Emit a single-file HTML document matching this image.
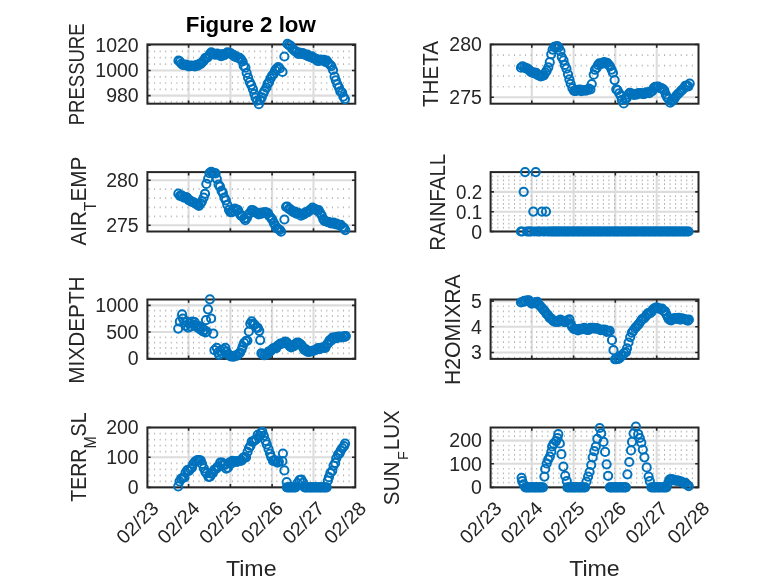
<!DOCTYPE html>
<html lang="en"><head><meta charset="utf-8"><title>Figure 2 low</title>
<style>html,body{margin:0;padding:0;background:#fff;overflow:hidden}svg{display:block;font-family:"Liberation Sans",sans-serif}</style></head><body>
<svg width="778" height="583" viewBox="0 0 778 583">
<rect width="778" height="583" fill="#fff"/>
<g>
<line x1="188.6" y1="44.4" x2="188.6" y2="103.7" stroke="#dcdcdc" stroke-width="2.1"/>
<line x1="230.4" y1="44.4" x2="230.4" y2="103.7" stroke="#dcdcdc" stroke-width="2.1"/>
<line x1="272.1" y1="44.4" x2="272.1" y2="103.7" stroke="#dcdcdc" stroke-width="2.1"/>
<line x1="313.5" y1="44.4" x2="313.5" y2="103.7" stroke="#dcdcdc" stroke-width="2.1"/>
<line x1="147.4" y1="45.2" x2="355.3" y2="45.2" stroke="#dcdcdc" stroke-width="2.1"/>
<line x1="147.4" y1="70.5" x2="355.3" y2="70.5" stroke="#dcdcdc" stroke-width="2.1"/>
<line x1="147.4" y1="95.6" x2="355.3" y2="95.6" stroke="#dcdcdc" stroke-width="2.1"/>
<line x1="148.55" y1="51.4" x2="354.3" y2="51.4" stroke="#b0b0b0" stroke-width="1.7" stroke-dasharray="1 4.557" stroke-dashoffset="0"/>
<line x1="148.55" y1="57.7" x2="354.3" y2="57.7" stroke="#b0b0b0" stroke-width="1.7" stroke-dasharray="1 4.557" stroke-dashoffset="0"/>
<line x1="148.55" y1="64.1" x2="354.3" y2="64.1" stroke="#b0b0b0" stroke-width="1.7" stroke-dasharray="1 4.557" stroke-dashoffset="0"/>
<line x1="148.55" y1="76.8" x2="354.3" y2="76.8" stroke="#b0b0b0" stroke-width="1.7" stroke-dasharray="1 4.557" stroke-dashoffset="0"/>
<line x1="148.55" y1="83" x2="354.3" y2="83" stroke="#b0b0b0" stroke-width="1.7" stroke-dasharray="1 4.557" stroke-dashoffset="0"/>
<line x1="148.55" y1="89.3" x2="354.3" y2="89.3" stroke="#b0b0b0" stroke-width="1.7" stroke-dasharray="1 4.557" stroke-dashoffset="0"/>
<line x1="148.55" y1="101.8" x2="354.3" y2="101.8" stroke="#b0b0b0" stroke-width="1.7" stroke-dasharray="1 4.557" stroke-dashoffset="0"/>
<rect x="147.4" y="44.4" width="207.9" height="59.3" fill="none" stroke="#262626" stroke-width="2"/>
<path d="M188.6 44.4v3.3 M188.6 103.7v-3.3" stroke="#262626" stroke-width="1.6" fill="none"/>
<path d="M230.4 44.4v3.3 M230.4 103.7v-3.3" stroke="#262626" stroke-width="1.6" fill="none"/>
<path d="M272.1 44.4v3.3 M272.1 103.7v-3.3" stroke="#262626" stroke-width="1.6" fill="none"/>
<path d="M313.5 44.4v3.3 M313.5 103.7v-3.3" stroke="#262626" stroke-width="1.6" fill="none"/>
<path d="M147.4 45.2h3.3 M355.3 45.2h-3.3" stroke="#262626" stroke-width="1.6" fill="none"/>
<path d="M147.4 70.5h3.3 M355.3 70.5h-3.3" stroke="#262626" stroke-width="1.6" fill="none"/>
<path d="M147.4 95.6h3.3 M355.3 95.6h-3.3" stroke="#262626" stroke-width="1.6" fill="none"/>
<text x="138.7" y="52" text-anchor="end" font-size="19.3" fill="#262626" textLength="43.4" lengthAdjust="spacingAndGlyphs">1020</text>
<text x="138.7" y="77.3" text-anchor="end" font-size="19.3" fill="#262626" textLength="43.4" lengthAdjust="spacingAndGlyphs">1000</text>
<text x="138.7" y="102.4" text-anchor="end" font-size="19.3" fill="#262626" textLength="32.55" lengthAdjust="spacingAndGlyphs">980</text>
<g fill="none" stroke="#0072BD" stroke-width="2">
<circle cx="178.48" cy="60.71" r="4.1"/>
<circle cx="179.97" cy="61.64" r="4.1"/>
<circle cx="181.38" cy="63.73" r="4.1"/>
<circle cx="182.91" cy="64.82" r="4.1"/>
<circle cx="184.23" cy="65.02" r="4.1"/>
<circle cx="186" cy="64.69" r="4.1"/>
<circle cx="187.22" cy="65.7" r="4.1"/>
<circle cx="188.95" cy="66.47" r="4.1"/>
<circle cx="190.45" cy="65.49" r="4.1"/>
<circle cx="191.8" cy="65.8" r="4.1"/>
<circle cx="193.15" cy="65.86" r="4.1"/>
<circle cx="194.87" cy="66.32" r="4.1"/>
<circle cx="196.16" cy="65.16" r="4.1"/>
<circle cx="197.84" cy="65.65" r="4.1"/>
<circle cx="199.05" cy="64.11" r="4.1"/>
<circle cx="200.85" cy="63.81" r="4.1"/>
<circle cx="202.24" cy="62.23" r="4.1"/>
<circle cx="203.71" cy="60.79" r="4.1"/>
<circle cx="205.12" cy="58.2" r="4.1"/>
<circle cx="206.73" cy="57.78" r="4.1"/>
<circle cx="208.04" cy="56.8" r="4.1"/>
<circle cx="209.8" cy="54.15" r="4.1"/>
<circle cx="211.22" cy="52.27" r="4.1"/>
<circle cx="212.66" cy="53.42" r="4.1"/>
<circle cx="214.19" cy="54.43" r="4.1"/>
<circle cx="215.52" cy="54.58" r="4.1"/>
<circle cx="217.12" cy="53.5" r="4.1"/>
<circle cx="218.49" cy="54.35" r="4.1"/>
<circle cx="220.07" cy="55.53" r="4.1"/>
<circle cx="221.35" cy="56.2" r="4.1"/>
<circle cx="222.8" cy="54.17" r="4.1"/>
<circle cx="224.35" cy="55.2" r="4.1"/>
<circle cx="226.01" cy="53.78" r="4.1"/>
<circle cx="227.41" cy="52.41" r="4.1"/>
<circle cx="228.94" cy="52.9" r="4.1"/>
<circle cx="230.38" cy="52.98" r="4.1"/>
<circle cx="232.16" cy="54.76" r="4.1"/>
<circle cx="233.39" cy="54.89" r="4.1"/>
<circle cx="234.67" cy="56.59" r="4.1"/>
<circle cx="236.22" cy="56.28" r="4.1"/>
<circle cx="238.01" cy="57.94" r="4.1"/>
<circle cx="239.53" cy="57.78" r="4.1"/>
<circle cx="240.95" cy="59.23" r="4.1"/>
<circle cx="242.59" cy="61.49" r="4.1"/>
<circle cx="243.66" cy="65.72" r="4.1"/>
<circle cx="245.4" cy="67.7" r="4.1"/>
<circle cx="246.67" cy="72.99" r="4.1"/>
<circle cx="248.12" cy="77.69" r="4.1"/>
<circle cx="249.75" cy="82.06" r="4.1"/>
<circle cx="251.26" cy="85.12" r="4.1"/>
<circle cx="252.89" cy="89.08" r="4.1"/>
<circle cx="254.39" cy="93.74" r="4.1"/>
<circle cx="255.54" cy="97.68" r="4.1"/>
<circle cx="257.19" cy="100.6" r="4.1"/>
<circle cx="258.82" cy="104.13" r="4.1"/>
<circle cx="260.09" cy="99.95" r="4.1"/>
<circle cx="261.78" cy="97.35" r="4.1"/>
<circle cx="263.37" cy="93.28" r="4.1"/>
<circle cx="264.49" cy="90.76" r="4.1"/>
<circle cx="266.41" cy="87.54" r="4.1"/>
<circle cx="267.6" cy="83.85" r="4.1"/>
<circle cx="269.04" cy="82.13" r="4.1"/>
<circle cx="270.5" cy="78.44" r="4.1"/>
<circle cx="272.1" cy="75.53" r="4.1"/>
<circle cx="273.77" cy="73.8" r="4.1"/>
<circle cx="275.18" cy="70.3" r="4.1"/>
<circle cx="276.64" cy="68.56" r="4.1"/>
<circle cx="278.22" cy="67.06" r="4.1"/>
<circle cx="282.5" cy="71.9" r="4.1"/>
<circle cx="279.8" cy="68.5" r="4.1"/>
<circle cx="284.4" cy="56.5" r="4.1"/>
<circle cx="287.45" cy="43.9" r="4.1"/>
<circle cx="288.79" cy="45.07" r="4.1"/>
<circle cx="290.5" cy="45.53" r="4.1"/>
<circle cx="292.12" cy="48.38" r="4.1"/>
<circle cx="293.7" cy="49.95" r="4.1"/>
<circle cx="295.28" cy="51.42" r="4.1"/>
<circle cx="296.66" cy="51.78" r="4.1"/>
<circle cx="298.16" cy="53.96" r="4.1"/>
<circle cx="299.38" cy="52.71" r="4.1"/>
<circle cx="301.03" cy="53.97" r="4.1"/>
<circle cx="302.71" cy="53.08" r="4.1"/>
<circle cx="304.19" cy="54.12" r="4.1"/>
<circle cx="305.77" cy="55.14" r="4.1"/>
<circle cx="307.33" cy="54.66" r="4.1"/>
<circle cx="308.49" cy="56.36" r="4.1"/>
<circle cx="310.41" cy="56.82" r="4.1"/>
<circle cx="311.91" cy="56.41" r="4.1"/>
<circle cx="313.35" cy="58.35" r="4.1"/>
<circle cx="314.91" cy="58.46" r="4.1"/>
<circle cx="316.4" cy="58.98" r="4.1"/>
<circle cx="317.52" cy="60.98" r="4.1"/>
<circle cx="319.37" cy="60.99" r="4.1"/>
<circle cx="320.59" cy="59.55" r="4.1"/>
<circle cx="322.07" cy="60.06" r="4.1"/>
<circle cx="323.88" cy="59.75" r="4.1"/>
<circle cx="325.31" cy="61.82" r="4.1"/>
<circle cx="326.72" cy="60.55" r="4.1"/>
<circle cx="328.17" cy="62.78" r="4.1"/>
<circle cx="330.08" cy="64.75" r="4.1"/>
<circle cx="331.37" cy="66.11" r="4.1"/>
<circle cx="333.03" cy="70.01" r="4.1"/>
<circle cx="334.58" cy="76.52" r="4.1"/>
<circle cx="335.86" cy="80.4" r="4.1"/>
<circle cx="337.38" cy="84.45" r="4.1"/>
<circle cx="339.04" cy="87.63" r="4.1"/>
<circle cx="340.26" cy="91.27" r="4.1"/>
<circle cx="342.15" cy="92.7" r="4.1"/>
<circle cx="343.35" cy="96.56" r="4.1"/>
<circle cx="344.95" cy="99.07" r="4.1"/>
</g>
<text transform="translate(83.8 74.35) rotate(-90)" text-anchor="middle" font-size="21.8" fill="#262626" textLength="101.8" lengthAdjust="spacingAndGlyphs">PRESSURE</text>
<text x="250.8" y="31.5" text-anchor="middle" font-size="21.8" font-weight="bold" fill="#000" textLength="130" lengthAdjust="spacingAndGlyphs">Figure 2 low</text>
</g>
<g>
<line x1="531.8" y1="44.4" x2="531.8" y2="103.7" stroke="#dcdcdc" stroke-width="2.1"/>
<line x1="573.6" y1="44.4" x2="573.6" y2="103.7" stroke="#dcdcdc" stroke-width="2.1"/>
<line x1="615.3" y1="44.4" x2="615.3" y2="103.7" stroke="#dcdcdc" stroke-width="2.1"/>
<line x1="656.7" y1="44.4" x2="656.7" y2="103.7" stroke="#dcdcdc" stroke-width="2.1"/>
<line x1="490.6" y1="44.5" x2="698.5" y2="44.5" stroke="#dcdcdc" stroke-width="2.1"/>
<line x1="490.6" y1="97.3" x2="698.5" y2="97.3" stroke="#dcdcdc" stroke-width="2.1"/>
<line x1="491.75" y1="55.06" x2="697.5" y2="55.06" stroke="#b0b0b0" stroke-width="1.7" stroke-dasharray="1 4.557" stroke-dashoffset="0"/>
<line x1="491.75" y1="65.62" x2="697.5" y2="65.62" stroke="#b0b0b0" stroke-width="1.7" stroke-dasharray="1 4.557" stroke-dashoffset="0"/>
<line x1="491.75" y1="76.18" x2="697.5" y2="76.18" stroke="#b0b0b0" stroke-width="1.7" stroke-dasharray="1 4.557" stroke-dashoffset="0"/>
<line x1="491.75" y1="86.74" x2="697.5" y2="86.74" stroke="#b0b0b0" stroke-width="1.7" stroke-dasharray="1 4.557" stroke-dashoffset="0"/>
<rect x="490.6" y="44.4" width="207.9" height="59.3" fill="none" stroke="#262626" stroke-width="2"/>
<path d="M531.8 44.4v3.3 M531.8 103.7v-3.3" stroke="#262626" stroke-width="1.6" fill="none"/>
<path d="M573.6 44.4v3.3 M573.6 103.7v-3.3" stroke="#262626" stroke-width="1.6" fill="none"/>
<path d="M615.3 44.4v3.3 M615.3 103.7v-3.3" stroke="#262626" stroke-width="1.6" fill="none"/>
<path d="M656.7 44.4v3.3 M656.7 103.7v-3.3" stroke="#262626" stroke-width="1.6" fill="none"/>
<path d="M490.6 44.5h3.3 M698.5 44.5h-3.3" stroke="#262626" stroke-width="1.6" fill="none"/>
<path d="M490.6 97.3h3.3 M698.5 97.3h-3.3" stroke="#262626" stroke-width="1.6" fill="none"/>
<text x="481.9" y="51.3" text-anchor="end" font-size="19.3" fill="#262626" textLength="32.55" lengthAdjust="spacingAndGlyphs">280</text>
<text x="481.9" y="104.1" text-anchor="end" font-size="19.3" fill="#262626" textLength="32.55" lengthAdjust="spacingAndGlyphs">275</text>
<g fill="none" stroke="#0072BD" stroke-width="2">
<circle cx="521.02" cy="67.65" r="4.1"/>
<circle cx="522.52" cy="66.26" r="4.1"/>
<circle cx="524.33" cy="67.34" r="4.1"/>
<circle cx="525.9" cy="68.34" r="4.1"/>
<circle cx="527.12" cy="68.28" r="4.1"/>
<circle cx="528.84" cy="69.58" r="4.1"/>
<circle cx="530.15" cy="71.05" r="4.1"/>
<circle cx="531.5" cy="72.28" r="4.1"/>
<circle cx="533.45" cy="72.38" r="4.1"/>
<circle cx="534.57" cy="73.47" r="4.1"/>
<circle cx="536.11" cy="72.94" r="4.1"/>
<circle cx="537.94" cy="75.18" r="4.1"/>
<circle cx="539.39" cy="75.33" r="4.1"/>
<circle cx="540.73" cy="76.3" r="4.1"/>
<circle cx="542.52" cy="75.76" r="4.1"/>
<circle cx="543.83" cy="75.29" r="4.1"/>
<circle cx="545.43" cy="72.58" r="4.1"/>
<circle cx="546.65" cy="70.67" r="4.1"/>
<circle cx="548.32" cy="67.36" r="4.1"/>
<circle cx="549.76" cy="62.21" r="4.1"/>
<circle cx="551.2" cy="54.37" r="4.1"/>
<circle cx="552.59" cy="49.56" r="4.1"/>
<circle cx="554.31" cy="46.78" r="4.1"/>
<circle cx="555.81" cy="46.5" r="4.1"/>
<circle cx="557.25" cy="46.07" r="4.1"/>
<circle cx="558.65" cy="47.3" r="4.1"/>
<circle cx="560.46" cy="51.14" r="4.1"/>
<circle cx="561.76" cy="57.06" r="4.1"/>
<circle cx="563.52" cy="60.28" r="4.1"/>
<circle cx="564.81" cy="65.01" r="4.1"/>
<circle cx="566.46" cy="68.66" r="4.1"/>
<circle cx="568" cy="74.28" r="4.1"/>
<circle cx="569.41" cy="79.38" r="4.1"/>
<circle cx="570.66" cy="83.75" r="4.1"/>
<circle cx="572.42" cy="88.15" r="4.1"/>
<circle cx="574.08" cy="90.92" r="4.1"/>
<circle cx="575.65" cy="90.99" r="4.1"/>
<circle cx="576.82" cy="90.75" r="4.1"/>
<circle cx="578.33" cy="89.88" r="4.1"/>
<circle cx="580.02" cy="89.49" r="4.1"/>
<circle cx="581.26" cy="91.07" r="4.1"/>
<circle cx="583.1" cy="90.3" r="4.1"/>
<circle cx="584.6" cy="90.2" r="4.1"/>
<circle cx="585.76" cy="90.68" r="4.1"/>
<circle cx="587.3" cy="90.12" r="4.1"/>
<circle cx="588.74" cy="88.55" r="4.1"/>
<circle cx="590.42" cy="89.48" r="4.1"/>
<circle cx="591.76" cy="83.99" r="4.1"/>
<circle cx="593.71" cy="74.63" r="4.1"/>
<circle cx="594.96" cy="69.77" r="4.1"/>
<circle cx="596.66" cy="67.92" r="4.1"/>
<circle cx="597.92" cy="65.01" r="4.1"/>
<circle cx="599.38" cy="63.39" r="4.1"/>
<circle cx="601.08" cy="63.66" r="4.1"/>
<circle cx="602.58" cy="63.66" r="4.1"/>
<circle cx="604.03" cy="62.11" r="4.1"/>
<circle cx="605.43" cy="62.88" r="4.1"/>
<circle cx="606.96" cy="62.73" r="4.1"/>
<circle cx="608.65" cy="64.63" r="4.1"/>
<circle cx="610" cy="66.44" r="4.1"/>
<circle cx="611.61" cy="69.62" r="4.1"/>
<circle cx="612.96" cy="72.74" r="4.1"/>
<circle cx="614.63" cy="80.1" r="4.1"/>
<circle cx="616.26" cy="89.37" r="4.1"/>
<circle cx="617.5" cy="90.16" r="4.1"/>
<circle cx="619.25" cy="93.26" r="4.1"/>
<circle cx="620.75" cy="95.87" r="4.1"/>
<circle cx="621.87" cy="99.92" r="4.1"/>
<circle cx="623.74" cy="103.4" r="4.1"/>
<circle cx="625.22" cy="99.06" r="4.1"/>
<circle cx="626.63" cy="98.23" r="4.1"/>
<circle cx="628.24" cy="94.73" r="4.1"/>
<circle cx="629.63" cy="92.79" r="4.1"/>
<circle cx="631.09" cy="93.3" r="4.1"/>
<circle cx="632.9" cy="94.28" r="4.1"/>
<circle cx="634.1" cy="94.92" r="4.1"/>
<circle cx="635.74" cy="94.4" r="4.1"/>
<circle cx="637.2" cy="94.31" r="4.1"/>
<circle cx="638.48" cy="92.98" r="4.1"/>
<circle cx="640.21" cy="93.12" r="4.1"/>
<circle cx="641.85" cy="93.27" r="4.1"/>
<circle cx="643.03" cy="94.08" r="4.1"/>
<circle cx="644.55" cy="93.78" r="4.1"/>
<circle cx="646.09" cy="92.29" r="4.1"/>
<circle cx="647.48" cy="92.51" r="4.1"/>
<circle cx="649.36" cy="93.16" r="4.1"/>
<circle cx="650.7" cy="91.73" r="4.1"/>
<circle cx="652.13" cy="91.19" r="4.1"/>
<circle cx="653.66" cy="88.04" r="4.1"/>
<circle cx="655.13" cy="86.79" r="4.1"/>
<circle cx="656.8" cy="86.81" r="4.1"/>
<circle cx="658.25" cy="86.71" r="4.1"/>
<circle cx="659.9" cy="88.11" r="4.1"/>
<circle cx="661.5" cy="88.08" r="4.1"/>
<circle cx="663.03" cy="89.19" r="4.1"/>
<circle cx="664.33" cy="90.48" r="4.1"/>
<circle cx="665.77" cy="94.4" r="4.1"/>
<circle cx="667.1" cy="97.13" r="4.1"/>
<circle cx="668.61" cy="98.9" r="4.1"/>
<circle cx="670.25" cy="102.76" r="4.1"/>
<circle cx="671.76" cy="101.02" r="4.1"/>
<circle cx="673.44" cy="99.95" r="4.1"/>
<circle cx="674.69" cy="98.02" r="4.1"/>
<circle cx="676.21" cy="95.81" r="4.1"/>
<circle cx="677.75" cy="94.06" r="4.1"/>
<circle cx="679.53" cy="92.59" r="4.1"/>
<circle cx="680.98" cy="90.88" r="4.1"/>
<circle cx="682.15" cy="89.91" r="4.1"/>
<circle cx="683.74" cy="88.47" r="4.1"/>
<circle cx="685.2" cy="85.96" r="4.1"/>
<circle cx="687.02" cy="85.61" r="4.1"/>
<circle cx="688.42" cy="86.37" r="4.1"/>
<circle cx="689.71" cy="83.51" r="4.1"/>
</g>
<text transform="translate(437.9 74.05) rotate(-90)" text-anchor="middle" font-size="21.8" fill="#262626" textLength="65.8" lengthAdjust="spacingAndGlyphs">THETA</text>
</g>
<g>
<line x1="188.6" y1="172.1" x2="188.6" y2="231.5" stroke="#dcdcdc" stroke-width="2.1"/>
<line x1="230.4" y1="172.1" x2="230.4" y2="231.5" stroke="#dcdcdc" stroke-width="2.1"/>
<line x1="272.1" y1="172.1" x2="272.1" y2="231.5" stroke="#dcdcdc" stroke-width="2.1"/>
<line x1="313.5" y1="172.1" x2="313.5" y2="231.5" stroke="#dcdcdc" stroke-width="2.1"/>
<line x1="147.4" y1="180.2" x2="355.3" y2="180.2" stroke="#dcdcdc" stroke-width="2.1"/>
<line x1="147.4" y1="225.3" x2="355.3" y2="225.3" stroke="#dcdcdc" stroke-width="2.1"/>
<line x1="148.55" y1="189.2" x2="354.3" y2="189.2" stroke="#b0b0b0" stroke-width="1.7" stroke-dasharray="1 4.557" stroke-dashoffset="0"/>
<line x1="148.55" y1="198.2" x2="354.3" y2="198.2" stroke="#b0b0b0" stroke-width="1.7" stroke-dasharray="1 4.557" stroke-dashoffset="0"/>
<line x1="148.55" y1="207.3" x2="354.3" y2="207.3" stroke="#b0b0b0" stroke-width="1.7" stroke-dasharray="1 4.557" stroke-dashoffset="0"/>
<line x1="148.55" y1="216.3" x2="354.3" y2="216.3" stroke="#b0b0b0" stroke-width="1.7" stroke-dasharray="1 4.557" stroke-dashoffset="0"/>
<rect x="147.4" y="172.1" width="207.9" height="59.4" fill="none" stroke="#262626" stroke-width="2"/>
<path d="M188.6 172.1v3.3 M188.6 231.5v-3.3" stroke="#262626" stroke-width="1.6" fill="none"/>
<path d="M230.4 172.1v3.3 M230.4 231.5v-3.3" stroke="#262626" stroke-width="1.6" fill="none"/>
<path d="M272.1 172.1v3.3 M272.1 231.5v-3.3" stroke="#262626" stroke-width="1.6" fill="none"/>
<path d="M313.5 172.1v3.3 M313.5 231.5v-3.3" stroke="#262626" stroke-width="1.6" fill="none"/>
<path d="M147.4 180.2h3.3 M355.3 180.2h-3.3" stroke="#262626" stroke-width="1.6" fill="none"/>
<path d="M147.4 225.3h3.3 M355.3 225.3h-3.3" stroke="#262626" stroke-width="1.6" fill="none"/>
<text x="138.7" y="187" text-anchor="end" font-size="19.3" fill="#262626" textLength="32.55" lengthAdjust="spacingAndGlyphs">280</text>
<text x="138.7" y="232.1" text-anchor="end" font-size="19.3" fill="#262626" textLength="32.55" lengthAdjust="spacingAndGlyphs">275</text>
<g fill="none" stroke="#0072BD" stroke-width="2">
<circle cx="178.35" cy="193.71" r="4.1"/>
<circle cx="179.93" cy="195.86" r="4.1"/>
<circle cx="181.38" cy="195.23" r="4.1"/>
<circle cx="182.45" cy="196.27" r="4.1"/>
<circle cx="183.93" cy="197.64" r="4.1"/>
<circle cx="185.92" cy="197.17" r="4.1"/>
<circle cx="187.28" cy="197.95" r="4.1"/>
<circle cx="188.73" cy="200.02" r="4.1"/>
<circle cx="190.23" cy="200.65" r="4.1"/>
<circle cx="191.44" cy="201.76" r="4.1"/>
<circle cx="193.25" cy="202.06" r="4.1"/>
<circle cx="194.46" cy="202.94" r="4.1"/>
<circle cx="196.06" cy="203.97" r="4.1"/>
<circle cx="197.5" cy="204.52" r="4.1"/>
<circle cx="198.95" cy="205.78" r="4.1"/>
<circle cx="200.61" cy="203.39" r="4.1"/>
<circle cx="201.88" cy="201.47" r="4.1"/>
<circle cx="203.65" cy="197.57" r="4.1"/>
<circle cx="205.03" cy="193.73" r="4.1"/>
<circle cx="206.35" cy="183.92" r="4.1"/>
<circle cx="208.19" cy="178.53" r="4.1"/>
<circle cx="209.46" cy="173.13" r="4.1"/>
<circle cx="211.3" cy="171.73" r="4.1"/>
<circle cx="212.57" cy="173.1" r="4.1"/>
<circle cx="214.18" cy="173" r="4.1"/>
<circle cx="215.59" cy="173.47" r="4.1"/>
<circle cx="216.8" cy="178.87" r="4.1"/>
<circle cx="218.55" cy="184.54" r="4.1"/>
<circle cx="220.03" cy="186.7" r="4.1"/>
<circle cx="221.57" cy="190.82" r="4.1"/>
<circle cx="222.86" cy="192.97" r="4.1"/>
<circle cx="224.34" cy="197.6" r="4.1"/>
<circle cx="225.86" cy="200.31" r="4.1"/>
<circle cx="227.29" cy="204.85" r="4.1"/>
<circle cx="228.99" cy="209.78" r="4.1"/>
<circle cx="230.37" cy="212.08" r="4.1"/>
<circle cx="231.96" cy="212.17" r="4.1"/>
<circle cx="233.66" cy="210.56" r="4.1"/>
<circle cx="234.85" cy="208.62" r="4.1"/>
<circle cx="236.65" cy="209.56" r="4.1"/>
<circle cx="238.11" cy="210.05" r="4.1"/>
<circle cx="239.44" cy="213.38" r="4.1"/>
<circle cx="241.04" cy="215.65" r="4.1"/>
<circle cx="242.24" cy="216.09" r="4.1"/>
<circle cx="244.17" cy="218.4" r="4.1"/>
<circle cx="245.32" cy="220.18" r="4.1"/>
<circle cx="246.89" cy="217.94" r="4.1"/>
<circle cx="248.4" cy="214.5" r="4.1"/>
<circle cx="249.79" cy="213.09" r="4.1"/>
<circle cx="251.59" cy="210.15" r="4.1"/>
<circle cx="253.14" cy="210.26" r="4.1"/>
<circle cx="254.36" cy="211.49" r="4.1"/>
<circle cx="255.87" cy="212.71" r="4.1"/>
<circle cx="257.6" cy="212.73" r="4.1"/>
<circle cx="258.64" cy="214.44" r="4.1"/>
<circle cx="260.37" cy="213.48" r="4.1"/>
<circle cx="261.64" cy="213.68" r="4.1"/>
<circle cx="263.33" cy="212.25" r="4.1"/>
<circle cx="264.86" cy="212.41" r="4.1"/>
<circle cx="266.38" cy="212.35" r="4.1"/>
<circle cx="267.99" cy="213.05" r="4.1"/>
<circle cx="269.18" cy="215.89" r="4.1"/>
<circle cx="271.02" cy="217.84" r="4.1"/>
<circle cx="272.4" cy="219.87" r="4.1"/>
<circle cx="273.94" cy="223.21" r="4.1"/>
<circle cx="275.46" cy="225.93" r="4.1"/>
<circle cx="276.91" cy="228.44" r="4.1"/>
<circle cx="278.11" cy="228.81" r="4.1"/>
<circle cx="279.84" cy="229.98" r="4.1"/>
<circle cx="281.05" cy="231.66" r="4.1"/>
<circle cx="284.4" cy="219.5" r="4.1"/>
<circle cx="286.11" cy="206.83" r="4.1"/>
<circle cx="287.27" cy="206.66" r="4.1"/>
<circle cx="288.89" cy="208.93" r="4.1"/>
<circle cx="290.41" cy="209.45" r="4.1"/>
<circle cx="291.89" cy="210.94" r="4.1"/>
<circle cx="293.35" cy="212.11" r="4.1"/>
<circle cx="294.95" cy="211.62" r="4.1"/>
<circle cx="296.36" cy="213.57" r="4.1"/>
<circle cx="297.9" cy="212.77" r="4.1"/>
<circle cx="299.49" cy="213.5" r="4.1"/>
<circle cx="300.98" cy="215.76" r="4.1"/>
<circle cx="302.55" cy="214.1" r="4.1"/>
<circle cx="303.84" cy="214.32" r="4.1"/>
<circle cx="305.38" cy="212.38" r="4.1"/>
<circle cx="306.62" cy="212.55" r="4.1"/>
<circle cx="308.47" cy="211.62" r="4.1"/>
<circle cx="309.48" cy="210.26" r="4.1"/>
<circle cx="311" cy="209.64" r="4.1"/>
<circle cx="312.54" cy="207.65" r="4.1"/>
<circle cx="314.31" cy="208.78" r="4.1"/>
<circle cx="315.6" cy="209.4" r="4.1"/>
<circle cx="317.34" cy="210.86" r="4.1"/>
<circle cx="318.7" cy="210.16" r="4.1"/>
<circle cx="320.2" cy="212.9" r="4.1"/>
<circle cx="321.67" cy="215.32" r="4.1"/>
<circle cx="323.24" cy="218.98" r="4.1"/>
<circle cx="324.42" cy="220.78" r="4.1"/>
<circle cx="326.27" cy="221.5" r="4.1"/>
<circle cx="327.63" cy="221.8" r="4.1"/>
<circle cx="329.01" cy="222.04" r="4.1"/>
<circle cx="330.46" cy="223.03" r="4.1"/>
<circle cx="331.72" cy="223.42" r="4.1"/>
<circle cx="333.47" cy="222.51" r="4.1"/>
<circle cx="335.14" cy="224.19" r="4.1"/>
<circle cx="336.47" cy="223.56" r="4.1"/>
<circle cx="337.72" cy="224.61" r="4.1"/>
<circle cx="339.4" cy="225.02" r="4.1"/>
<circle cx="340.77" cy="224.9" r="4.1"/>
<circle cx="342.48" cy="227.05" r="4.1"/>
<circle cx="343.95" cy="227.87" r="4.1"/>
<circle cx="345.26" cy="230.06" r="4.1"/>
</g>
<text transform="translate(86.1 201.1) rotate(-90)" text-anchor="middle" font-size="21.8" fill="#262626" textLength="88.9" lengthAdjust="spacingAndGlyphs">AIR<tspan dx="0" dy="9.6" font-size="16.2">T</tspan><tspan dx="0" dy="-9.6">EMP</tspan></text>
</g>
<g>
<line x1="531.8" y1="172.1" x2="531.8" y2="231.5" stroke="#dcdcdc" stroke-width="2.1"/>
<line x1="573.6" y1="172.1" x2="573.6" y2="231.5" stroke="#dcdcdc" stroke-width="2.1"/>
<line x1="615.3" y1="172.1" x2="615.3" y2="231.5" stroke="#dcdcdc" stroke-width="2.1"/>
<line x1="656.7" y1="172.1" x2="656.7" y2="231.5" stroke="#dcdcdc" stroke-width="2.1"/>
<line x1="490.6" y1="191.9" x2="698.5" y2="191.9" stroke="#dcdcdc" stroke-width="2.1"/>
<line x1="490.6" y1="211.7" x2="698.5" y2="211.7" stroke="#dcdcdc" stroke-width="2.1"/>
<line x1="490.6" y1="231.5" x2="698.5" y2="231.5" stroke="#dcdcdc" stroke-width="2.1"/>
<line x1="491.75" y1="227.56" x2="697.5" y2="227.56" stroke="#b0b0b0" stroke-width="1.7" stroke-dasharray="1 4.557" stroke-dashoffset="0"/>
<line x1="491.75" y1="223.62" x2="697.5" y2="223.62" stroke="#b0b0b0" stroke-width="1.7" stroke-dasharray="1 4.557" stroke-dashoffset="0"/>
<line x1="491.75" y1="219.68" x2="697.5" y2="219.68" stroke="#b0b0b0" stroke-width="1.7" stroke-dasharray="1 4.557" stroke-dashoffset="0"/>
<line x1="491.75" y1="215.74" x2="697.5" y2="215.74" stroke="#b0b0b0" stroke-width="1.7" stroke-dasharray="1 4.557" stroke-dashoffset="0"/>
<line x1="491.75" y1="207.86" x2="697.5" y2="207.86" stroke="#b0b0b0" stroke-width="1.7" stroke-dasharray="1 4.557" stroke-dashoffset="0"/>
<line x1="491.75" y1="203.92" x2="697.5" y2="203.92" stroke="#b0b0b0" stroke-width="1.7" stroke-dasharray="1 4.557" stroke-dashoffset="0"/>
<line x1="491.75" y1="199.98" x2="697.5" y2="199.98" stroke="#b0b0b0" stroke-width="1.7" stroke-dasharray="1 4.557" stroke-dashoffset="0"/>
<line x1="491.75" y1="196.04" x2="697.5" y2="196.04" stroke="#b0b0b0" stroke-width="1.7" stroke-dasharray="1 4.557" stroke-dashoffset="0"/>
<line x1="491.75" y1="188.16" x2="697.5" y2="188.16" stroke="#b0b0b0" stroke-width="1.7" stroke-dasharray="1 4.557" stroke-dashoffset="0"/>
<line x1="491.75" y1="184.22" x2="697.5" y2="184.22" stroke="#b0b0b0" stroke-width="1.7" stroke-dasharray="1 4.557" stroke-dashoffset="0"/>
<line x1="491.75" y1="180.28" x2="697.5" y2="180.28" stroke="#b0b0b0" stroke-width="1.7" stroke-dasharray="1 4.557" stroke-dashoffset="0"/>
<line x1="491.75" y1="176.34" x2="697.5" y2="176.34" stroke="#b0b0b0" stroke-width="1.7" stroke-dasharray="1 4.557" stroke-dashoffset="0"/>
<rect x="490.6" y="172.1" width="207.9" height="59.4" fill="none" stroke="#262626" stroke-width="2"/>
<path d="M531.8 172.1v3.3 M531.8 231.5v-3.3" stroke="#262626" stroke-width="1.6" fill="none"/>
<path d="M573.6 172.1v3.3 M573.6 231.5v-3.3" stroke="#262626" stroke-width="1.6" fill="none"/>
<path d="M615.3 172.1v3.3 M615.3 231.5v-3.3" stroke="#262626" stroke-width="1.6" fill="none"/>
<path d="M656.7 172.1v3.3 M656.7 231.5v-3.3" stroke="#262626" stroke-width="1.6" fill="none"/>
<path d="M490.6 191.9h3.3 M698.5 191.9h-3.3" stroke="#262626" stroke-width="1.6" fill="none"/>
<path d="M490.6 211.7h3.3 M698.5 211.7h-3.3" stroke="#262626" stroke-width="1.6" fill="none"/>
<path d="M490.6 231.5h3.3 M698.5 231.5h-3.3" stroke="#262626" stroke-width="1.6" fill="none"/>
<text x="482.2" y="198.7" text-anchor="end" font-size="19.3" fill="#262626" textLength="26.1" lengthAdjust="spacingAndGlyphs">0.2</text>
<text x="482.2" y="218.5" text-anchor="end" font-size="19.3" fill="#262626" textLength="26.1" lengthAdjust="spacingAndGlyphs">0.1</text>
<text x="482.2" y="239.2" text-anchor="end" font-size="19.3" fill="#262626" textLength="10.85" lengthAdjust="spacingAndGlyphs">0</text>
<g fill="none" stroke="#0072BD" stroke-width="2">
<circle cx="520.93" cy="231.5" r="4.1"/>
<circle cx="522.33" cy="231.5" r="4.1"/>
<circle cx="526.95" cy="231.5" r="4.1"/>
<circle cx="528.57" cy="231.5" r="4.1"/>
<circle cx="529.98" cy="231.5" r="4.1"/>
<circle cx="531.19" cy="231.5" r="4.1"/>
<circle cx="534.24" cy="231.5" r="4.1"/>
<circle cx="537.13" cy="231.5" r="4.1"/>
<circle cx="538.94" cy="231.5" r="4.1"/>
<circle cx="540.29" cy="231.5" r="4.1"/>
<circle cx="543.16" cy="231.5" r="4.1"/>
<circle cx="544.86" cy="231.5" r="4.1"/>
<circle cx="547.59" cy="231.5" r="4.1"/>
<circle cx="549.26" cy="231.5" r="4.1"/>
<circle cx="551.07" cy="231.5" r="4.1"/>
<circle cx="552.42" cy="231.5" r="4.1"/>
<circle cx="554.03" cy="231.5" r="4.1"/>
<circle cx="555.38" cy="231.5" r="4.1"/>
<circle cx="556.85" cy="231.5" r="4.1"/>
<circle cx="558.22" cy="231.5" r="4.1"/>
<circle cx="559.79" cy="231.5" r="4.1"/>
<circle cx="561.13" cy="231.5" r="4.1"/>
<circle cx="562.94" cy="231.5" r="4.1"/>
<circle cx="564.26" cy="231.5" r="4.1"/>
<circle cx="565.83" cy="231.5" r="4.1"/>
<circle cx="567.15" cy="231.5" r="4.1"/>
<circle cx="568.66" cy="231.5" r="4.1"/>
<circle cx="570.05" cy="231.5" r="4.1"/>
<circle cx="571.91" cy="231.5" r="4.1"/>
<circle cx="573.21" cy="231.5" r="4.1"/>
<circle cx="574.7" cy="231.5" r="4.1"/>
<circle cx="576.36" cy="231.5" r="4.1"/>
<circle cx="577.97" cy="231.5" r="4.1"/>
<circle cx="579.02" cy="231.5" r="4.1"/>
<circle cx="580.65" cy="231.5" r="4.1"/>
<circle cx="582.34" cy="231.5" r="4.1"/>
<circle cx="583.7" cy="231.5" r="4.1"/>
<circle cx="585.12" cy="231.5" r="4.1"/>
<circle cx="586.69" cy="231.5" r="4.1"/>
<circle cx="588.26" cy="231.5" r="4.1"/>
<circle cx="589.88" cy="231.5" r="4.1"/>
<circle cx="591.09" cy="231.5" r="4.1"/>
<circle cx="592.96" cy="231.5" r="4.1"/>
<circle cx="594.09" cy="231.5" r="4.1"/>
<circle cx="595.84" cy="231.5" r="4.1"/>
<circle cx="597.33" cy="231.5" r="4.1"/>
<circle cx="598.66" cy="231.5" r="4.1"/>
<circle cx="600.1" cy="231.5" r="4.1"/>
<circle cx="601.58" cy="231.5" r="4.1"/>
<circle cx="603.13" cy="231.5" r="4.1"/>
<circle cx="604.75" cy="231.5" r="4.1"/>
<circle cx="606.29" cy="231.5" r="4.1"/>
<circle cx="607.69" cy="231.5" r="4.1"/>
<circle cx="609.34" cy="231.5" r="4.1"/>
<circle cx="610.46" cy="231.5" r="4.1"/>
<circle cx="612.39" cy="231.5" r="4.1"/>
<circle cx="613.83" cy="231.5" r="4.1"/>
<circle cx="615.29" cy="231.5" r="4.1"/>
<circle cx="616.85" cy="231.5" r="4.1"/>
<circle cx="618.12" cy="231.5" r="4.1"/>
<circle cx="619.47" cy="231.5" r="4.1"/>
<circle cx="621.37" cy="231.5" r="4.1"/>
<circle cx="622.69" cy="231.5" r="4.1"/>
<circle cx="624.14" cy="231.5" r="4.1"/>
<circle cx="625.83" cy="231.5" r="4.1"/>
<circle cx="627.3" cy="231.5" r="4.1"/>
<circle cx="628.45" cy="231.5" r="4.1"/>
<circle cx="630.11" cy="231.5" r="4.1"/>
<circle cx="631.44" cy="231.5" r="4.1"/>
<circle cx="633.07" cy="231.5" r="4.1"/>
<circle cx="634.45" cy="231.5" r="4.1"/>
<circle cx="636.05" cy="231.5" r="4.1"/>
<circle cx="637.45" cy="231.5" r="4.1"/>
<circle cx="639.11" cy="231.5" r="4.1"/>
<circle cx="640.8" cy="231.5" r="4.1"/>
<circle cx="642.32" cy="231.5" r="4.1"/>
<circle cx="643.6" cy="231.5" r="4.1"/>
<circle cx="645.14" cy="231.5" r="4.1"/>
<circle cx="646.45" cy="231.5" r="4.1"/>
<circle cx="648.25" cy="231.5" r="4.1"/>
<circle cx="649.36" cy="231.5" r="4.1"/>
<circle cx="651.15" cy="231.5" r="4.1"/>
<circle cx="652.43" cy="231.5" r="4.1"/>
<circle cx="654.07" cy="231.5" r="4.1"/>
<circle cx="655.33" cy="231.5" r="4.1"/>
<circle cx="657.12" cy="231.5" r="4.1"/>
<circle cx="658.78" cy="231.5" r="4.1"/>
<circle cx="659.93" cy="231.5" r="4.1"/>
<circle cx="661.74" cy="231.5" r="4.1"/>
<circle cx="662.94" cy="231.5" r="4.1"/>
<circle cx="664.75" cy="231.5" r="4.1"/>
<circle cx="666.12" cy="231.5" r="4.1"/>
<circle cx="667.66" cy="231.5" r="4.1"/>
<circle cx="668.98" cy="231.5" r="4.1"/>
<circle cx="670.53" cy="231.5" r="4.1"/>
<circle cx="672.04" cy="231.5" r="4.1"/>
<circle cx="673.47" cy="231.5" r="4.1"/>
<circle cx="674.85" cy="231.5" r="4.1"/>
<circle cx="676.33" cy="231.5" r="4.1"/>
<circle cx="677.8" cy="231.5" r="4.1"/>
<circle cx="679.39" cy="231.5" r="4.1"/>
<circle cx="680.88" cy="231.5" r="4.1"/>
<circle cx="682.51" cy="231.5" r="4.1"/>
<circle cx="684" cy="231.5" r="4.1"/>
<circle cx="685.32" cy="231.5" r="4.1"/>
<circle cx="687.23" cy="231.5" r="4.1"/>
<circle cx="688.52" cy="231.5" r="4.1"/>
<circle cx="525.05" cy="172.1" r="4.1"/>
<circle cx="535.75" cy="172.1" r="4.1"/>
<circle cx="523.7" cy="191.8" r="4.1"/>
<circle cx="533.3" cy="211.6" r="4.1"/>
<circle cx="541.9" cy="211.6" r="4.1"/>
<circle cx="546" cy="211.6" r="4.1"/>
</g>
<text transform="translate(445 202.2) rotate(-90)" text-anchor="middle" font-size="21.8" fill="#262626" textLength="97" lengthAdjust="spacingAndGlyphs">RAINFALL</text>
</g>
<g>
<line x1="188.6" y1="299.5" x2="188.6" y2="358.9" stroke="#dcdcdc" stroke-width="2.1"/>
<line x1="230.4" y1="299.5" x2="230.4" y2="358.9" stroke="#dcdcdc" stroke-width="2.1"/>
<line x1="272.1" y1="299.5" x2="272.1" y2="358.9" stroke="#dcdcdc" stroke-width="2.1"/>
<line x1="313.5" y1="299.5" x2="313.5" y2="358.9" stroke="#dcdcdc" stroke-width="2.1"/>
<line x1="147.4" y1="305.4" x2="355.3" y2="305.4" stroke="#dcdcdc" stroke-width="2.1"/>
<line x1="147.4" y1="332" x2="355.3" y2="332" stroke="#dcdcdc" stroke-width="2.1"/>
<line x1="147.4" y1="358.6" x2="355.3" y2="358.6" stroke="#dcdcdc" stroke-width="2.1"/>
<line x1="148.55" y1="353.28" x2="354.3" y2="353.28" stroke="#b0b0b0" stroke-width="1.7" stroke-dasharray="1 4.557" stroke-dashoffset="0"/>
<line x1="148.55" y1="347.96" x2="354.3" y2="347.96" stroke="#b0b0b0" stroke-width="1.7" stroke-dasharray="1 4.557" stroke-dashoffset="0"/>
<line x1="148.55" y1="342.64" x2="354.3" y2="342.64" stroke="#b0b0b0" stroke-width="1.7" stroke-dasharray="1 4.557" stroke-dashoffset="0"/>
<line x1="148.55" y1="337.32" x2="354.3" y2="337.32" stroke="#b0b0b0" stroke-width="1.7" stroke-dasharray="1 4.557" stroke-dashoffset="0"/>
<line x1="148.55" y1="326.68" x2="354.3" y2="326.68" stroke="#b0b0b0" stroke-width="1.7" stroke-dasharray="1 4.557" stroke-dashoffset="0"/>
<line x1="148.55" y1="321.36" x2="354.3" y2="321.36" stroke="#b0b0b0" stroke-width="1.7" stroke-dasharray="1 4.557" stroke-dashoffset="0"/>
<line x1="148.55" y1="316.04" x2="354.3" y2="316.04" stroke="#b0b0b0" stroke-width="1.7" stroke-dasharray="1 4.557" stroke-dashoffset="0"/>
<line x1="148.55" y1="310.72" x2="354.3" y2="310.72" stroke="#b0b0b0" stroke-width="1.7" stroke-dasharray="1 4.557" stroke-dashoffset="0"/>
<rect x="147.4" y="299.5" width="207.9" height="59.4" fill="none" stroke="#262626" stroke-width="2"/>
<path d="M188.6 299.5v3.3 M188.6 358.9v-3.3" stroke="#262626" stroke-width="1.6" fill="none"/>
<path d="M230.4 299.5v3.3 M230.4 358.9v-3.3" stroke="#262626" stroke-width="1.6" fill="none"/>
<path d="M272.1 299.5v3.3 M272.1 358.9v-3.3" stroke="#262626" stroke-width="1.6" fill="none"/>
<path d="M313.5 299.5v3.3 M313.5 358.9v-3.3" stroke="#262626" stroke-width="1.6" fill="none"/>
<path d="M147.4 305.4h3.3 M355.3 305.4h-3.3" stroke="#262626" stroke-width="1.6" fill="none"/>
<path d="M147.4 332h3.3 M355.3 332h-3.3" stroke="#262626" stroke-width="1.6" fill="none"/>
<path d="M147.4 358.6h3.3 M355.3 358.6h-3.3" stroke="#262626" stroke-width="1.6" fill="none"/>
<text x="138.7" y="312.2" text-anchor="end" font-size="19.3" fill="#262626" textLength="43.4" lengthAdjust="spacingAndGlyphs">1000</text>
<text x="138.7" y="338.8" text-anchor="end" font-size="19.3" fill="#262626" textLength="32.55" lengthAdjust="spacingAndGlyphs">500</text>
<text x="138.7" y="365.4" text-anchor="end" font-size="19.3" fill="#262626" textLength="10.85" lengthAdjust="spacingAndGlyphs">0</text>
<g fill="none" stroke="#0072BD" stroke-width="2">
<circle cx="178.2" cy="328.6" r="4.1"/>
<circle cx="179.8" cy="321.6" r="4.1"/>
<circle cx="182.1" cy="314.4" r="4.1"/>
<circle cx="182.9" cy="318.5" r="4.1"/>
<circle cx="184.4" cy="322.4" r="4.1"/>
<circle cx="185.5" cy="325.8" r="4.1"/>
<circle cx="186.8" cy="321.5" r="4.1"/>
<circle cx="188.2" cy="327.6" r="4.1"/>
<circle cx="189.6" cy="323.2" r="4.1"/>
<circle cx="191" cy="326.4" r="4.1"/>
<circle cx="192.4" cy="321.6" r="4.1"/>
<circle cx="193.6" cy="324.6" r="4.1"/>
<circle cx="194.6" cy="322" r="4.1"/>
<circle cx="196" cy="325.5" r="4.1"/>
<circle cx="197.4" cy="327.5" r="4.1"/>
<circle cx="198.8" cy="326.2" r="4.1"/>
<circle cx="200.2" cy="329.4" r="4.1"/>
<circle cx="201.6" cy="328.2" r="4.1"/>
<circle cx="203" cy="331.4" r="4.1"/>
<circle cx="204.4" cy="330" r="4.1"/>
<circle cx="205.6" cy="332.4" r="4.1"/>
<circle cx="206.8" cy="331.5" r="4.1"/>
<circle cx="206" cy="320.1" r="4.1"/>
<circle cx="208" cy="309.3" r="4.1"/>
<circle cx="209.9" cy="299.3" r="4.1"/>
<circle cx="211.1" cy="318.5" r="4.1"/>
<circle cx="213.3" cy="333.7" r="4.1"/>
<circle cx="214.5" cy="350.2" r="4.1"/>
<circle cx="216.8" cy="347.8" r="4.1"/>
<circle cx="218" cy="352.5" r="4.1"/>
<circle cx="219.1" cy="354.8" r="4.1"/>
<circle cx="220.6" cy="350.5" r="4.1"/>
<circle cx="222" cy="353.5" r="4.1"/>
<circle cx="223.5" cy="349.5" r="4.1"/>
<circle cx="225.3" cy="347.8" r="4.1"/>
<circle cx="226.6" cy="351.5" r="4.1"/>
<circle cx="228" cy="354.5" r="4.1"/>
<circle cx="229.17" cy="355.07" r="4.1"/>
<circle cx="230.69" cy="356.32" r="4.1"/>
<circle cx="232.18" cy="356.38" r="4.1"/>
<circle cx="233.81" cy="356.71" r="4.1"/>
<circle cx="235.26" cy="355.49" r="4.1"/>
<circle cx="237.01" cy="355.59" r="4.1"/>
<circle cx="238.5" cy="353.98" r="4.1"/>
<circle cx="240.04" cy="352.69" r="4.1"/>
<circle cx="241.53" cy="349.75" r="4.1"/>
<circle cx="242.67" cy="346.45" r="4.1"/>
<circle cx="244.1" cy="342.81" r="4.1"/>
<circle cx="245.92" cy="341.1" r="4.1"/>
<circle cx="247.4" cy="340.53" r="4.1"/>
<circle cx="248.84" cy="331.51" r="4.1"/>
<circle cx="250.29" cy="323.73" r="4.1"/>
<circle cx="251.68" cy="321.39" r="4.1"/>
<circle cx="253.13" cy="323.74" r="4.1"/>
<circle cx="254.58" cy="324.61" r="4.1"/>
<circle cx="256.3" cy="327.34" r="4.1"/>
<circle cx="257.85" cy="327.96" r="4.1"/>
<circle cx="259.25" cy="330.79" r="4.1"/>
<circle cx="260.2" cy="340.1" r="4.1"/>
<circle cx="261.4" cy="353.23" r="4.1"/>
<circle cx="262.63" cy="354.42" r="4.1"/>
<circle cx="264.34" cy="355.27" r="4.1"/>
<circle cx="265.76" cy="353.84" r="4.1"/>
<circle cx="267.37" cy="354.14" r="4.1"/>
<circle cx="268.56" cy="351.58" r="4.1"/>
<circle cx="270.23" cy="351.47" r="4.1"/>
<circle cx="271.53" cy="349.85" r="4.1"/>
<circle cx="273.13" cy="348.32" r="4.1"/>
<circle cx="274.52" cy="348.12" r="4.1"/>
<circle cx="276.27" cy="348.04" r="4.1"/>
<circle cx="277.42" cy="345.85" r="4.1"/>
<circle cx="279.38" cy="344.51" r="4.1"/>
<circle cx="280.4" cy="343.59" r="4.1"/>
<circle cx="282.05" cy="343.56" r="4.1"/>
<circle cx="283.53" cy="342.87" r="4.1"/>
<circle cx="285.17" cy="341.59" r="4.1"/>
<circle cx="286.77" cy="342.32" r="4.1"/>
<circle cx="288.32" cy="344.47" r="4.1"/>
<circle cx="289.69" cy="346.03" r="4.1"/>
<circle cx="291.24" cy="347.39" r="4.1"/>
<circle cx="292.49" cy="345.61" r="4.1"/>
<circle cx="293.96" cy="346.19" r="4.1"/>
<circle cx="295.47" cy="343.95" r="4.1"/>
<circle cx="297.05" cy="342.62" r="4.1"/>
<circle cx="298.69" cy="342.74" r="4.1"/>
<circle cx="300.11" cy="344.2" r="4.1"/>
<circle cx="301.47" cy="345.08" r="4.1"/>
<circle cx="303.03" cy="347.43" r="4.1"/>
<circle cx="304.33" cy="349.98" r="4.1"/>
<circle cx="306" cy="349.4" r="4.1"/>
<circle cx="307.2" cy="351.76" r="4.1"/>
<circle cx="308.98" cy="351.8" r="4.1"/>
<circle cx="310.42" cy="351.44" r="4.1"/>
<circle cx="311.93" cy="351.1" r="4.1"/>
<circle cx="313.25" cy="350.7" r="4.1"/>
<circle cx="314.65" cy="350.5" r="4.1"/>
<circle cx="316.58" cy="349.29" r="4.1"/>
<circle cx="317.96" cy="348.12" r="4.1"/>
<circle cx="319.54" cy="349.14" r="4.1"/>
<circle cx="320.56" cy="347.94" r="4.1"/>
<circle cx="322.09" cy="347.8" r="4.1"/>
<circle cx="323.84" cy="347.34" r="4.1"/>
<circle cx="325.34" cy="347.82" r="4.1"/>
<circle cx="326.96" cy="344.36" r="4.1"/>
<circle cx="328.27" cy="343.2" r="4.1"/>
<circle cx="329.51" cy="340.27" r="4.1"/>
<circle cx="331.45" cy="340.4" r="4.1"/>
<circle cx="332.48" cy="337.54" r="4.1"/>
<circle cx="334.01" cy="337.77" r="4.1"/>
<circle cx="335.91" cy="336.99" r="4.1"/>
<circle cx="337.03" cy="338.25" r="4.1"/>
<circle cx="338.49" cy="336.49" r="4.1"/>
<circle cx="339.94" cy="336.97" r="4.1"/>
<circle cx="341.4" cy="337.46" r="4.1"/>
<circle cx="343.21" cy="336.26" r="4.1"/>
<circle cx="344.66" cy="336.93" r="4.1"/>
<circle cx="345.88" cy="336.04" r="4.1"/>
</g>
<text transform="translate(84.2 330.1) rotate(-90)" text-anchor="middle" font-size="21.8" fill="#262626" textLength="107.3" lengthAdjust="spacingAndGlyphs">MIXDEPTH</text>
</g>
<g>
<line x1="531.8" y1="299.5" x2="531.8" y2="358.9" stroke="#dcdcdc" stroke-width="2.1"/>
<line x1="573.6" y1="299.5" x2="573.6" y2="358.9" stroke="#dcdcdc" stroke-width="2.1"/>
<line x1="615.3" y1="299.5" x2="615.3" y2="358.9" stroke="#dcdcdc" stroke-width="2.1"/>
<line x1="656.7" y1="299.5" x2="656.7" y2="358.9" stroke="#dcdcdc" stroke-width="2.1"/>
<line x1="490.6" y1="301.1" x2="698.5" y2="301.1" stroke="#dcdcdc" stroke-width="2.1"/>
<line x1="490.6" y1="326.8" x2="698.5" y2="326.8" stroke="#dcdcdc" stroke-width="2.1"/>
<line x1="490.6" y1="352.5" x2="698.5" y2="352.5" stroke="#dcdcdc" stroke-width="2.1"/>
<line x1="491.75" y1="357.64" x2="697.5" y2="357.64" stroke="#b0b0b0" stroke-width="1.7" stroke-dasharray="1 4.557" stroke-dashoffset="0"/>
<line x1="491.75" y1="347.36" x2="697.5" y2="347.36" stroke="#b0b0b0" stroke-width="1.7" stroke-dasharray="1 4.557" stroke-dashoffset="0"/>
<line x1="491.75" y1="342.22" x2="697.5" y2="342.22" stroke="#b0b0b0" stroke-width="1.7" stroke-dasharray="1 4.557" stroke-dashoffset="0"/>
<line x1="491.75" y1="337.08" x2="697.5" y2="337.08" stroke="#b0b0b0" stroke-width="1.7" stroke-dasharray="1 4.557" stroke-dashoffset="0"/>
<line x1="491.75" y1="331.94" x2="697.5" y2="331.94" stroke="#b0b0b0" stroke-width="1.7" stroke-dasharray="1 4.557" stroke-dashoffset="0"/>
<line x1="491.75" y1="321.66" x2="697.5" y2="321.66" stroke="#b0b0b0" stroke-width="1.7" stroke-dasharray="1 4.557" stroke-dashoffset="0"/>
<line x1="491.75" y1="316.52" x2="697.5" y2="316.52" stroke="#b0b0b0" stroke-width="1.7" stroke-dasharray="1 4.557" stroke-dashoffset="0"/>
<line x1="491.75" y1="311.38" x2="697.5" y2="311.38" stroke="#b0b0b0" stroke-width="1.7" stroke-dasharray="1 4.557" stroke-dashoffset="0"/>
<line x1="491.75" y1="306.24" x2="697.5" y2="306.24" stroke="#b0b0b0" stroke-width="1.7" stroke-dasharray="1 4.557" stroke-dashoffset="0"/>
<rect x="490.6" y="299.5" width="207.9" height="59.4" fill="none" stroke="#262626" stroke-width="2"/>
<path d="M531.8 299.5v3.3 M531.8 358.9v-3.3" stroke="#262626" stroke-width="1.6" fill="none"/>
<path d="M573.6 299.5v3.3 M573.6 358.9v-3.3" stroke="#262626" stroke-width="1.6" fill="none"/>
<path d="M615.3 299.5v3.3 M615.3 358.9v-3.3" stroke="#262626" stroke-width="1.6" fill="none"/>
<path d="M656.7 299.5v3.3 M656.7 358.9v-3.3" stroke="#262626" stroke-width="1.6" fill="none"/>
<path d="M490.6 301.1h3.3 M698.5 301.1h-3.3" stroke="#262626" stroke-width="1.6" fill="none"/>
<path d="M490.6 326.8h3.3 M698.5 326.8h-3.3" stroke="#262626" stroke-width="1.6" fill="none"/>
<path d="M490.6 352.5h3.3 M698.5 352.5h-3.3" stroke="#262626" stroke-width="1.6" fill="none"/>
<text x="481.9" y="307.9" text-anchor="end" font-size="19.3" fill="#262626" textLength="10.85" lengthAdjust="spacingAndGlyphs">5</text>
<text x="481.9" y="333.6" text-anchor="end" font-size="19.3" fill="#262626" textLength="10.85" lengthAdjust="spacingAndGlyphs">4</text>
<text x="481.9" y="359.3" text-anchor="end" font-size="19.3" fill="#262626" textLength="10.85" lengthAdjust="spacingAndGlyphs">3</text>
<g fill="none" stroke="#0072BD" stroke-width="2">
<circle cx="521.01" cy="302.41" r="4.1"/>
<circle cx="522.9" cy="301.8" r="4.1"/>
<circle cx="524.28" cy="300.76" r="4.1"/>
<circle cx="525.52" cy="301.11" r="4.1"/>
<circle cx="527.34" cy="300.26" r="4.1"/>
<circle cx="528.81" cy="300.39" r="4.1"/>
<circle cx="530.19" cy="301.7" r="4.1"/>
<circle cx="531.67" cy="303.68" r="4.1"/>
<circle cx="533.13" cy="302.95" r="4.1"/>
<circle cx="534.63" cy="303.2" r="4.1"/>
<circle cx="536.08" cy="302.13" r="4.1"/>
<circle cx="537.47" cy="301.86" r="4.1"/>
<circle cx="539.11" cy="304.84" r="4.1"/>
<circle cx="540.51" cy="306.34" r="4.1"/>
<circle cx="542.32" cy="308.36" r="4.1"/>
<circle cx="543.59" cy="309.97" r="4.1"/>
<circle cx="544.97" cy="311.34" r="4.1"/>
<circle cx="546.61" cy="313.82" r="4.1"/>
<circle cx="548.08" cy="315.15" r="4.1"/>
<circle cx="549.64" cy="317.85" r="4.1"/>
<circle cx="551.41" cy="318.6" r="4.1"/>
<circle cx="552.8" cy="320.3" r="4.1"/>
<circle cx="553.97" cy="321.5" r="4.1"/>
<circle cx="555.7" cy="321.84" r="4.1"/>
<circle cx="557.44" cy="320.91" r="4.1"/>
<circle cx="558.48" cy="321.83" r="4.1"/>
<circle cx="560.37" cy="319.49" r="4.1"/>
<circle cx="561.57" cy="320.67" r="4.1"/>
<circle cx="563.25" cy="321.37" r="4.1"/>
<circle cx="564.67" cy="322.24" r="4.1"/>
<circle cx="566" cy="321.76" r="4.1"/>
<circle cx="567.6" cy="320.27" r="4.1"/>
<circle cx="569.41" cy="319.45" r="4.1"/>
<circle cx="570.75" cy="324.1" r="4.1"/>
<circle cx="572.12" cy="327.01" r="4.1"/>
<circle cx="573.81" cy="328.78" r="4.1"/>
<circle cx="575.15" cy="329.1" r="4.1"/>
<circle cx="576.87" cy="329.41" r="4.1"/>
<circle cx="577.96" cy="330.47" r="4.1"/>
<circle cx="579.67" cy="328.9" r="4.1"/>
<circle cx="581.36" cy="329.32" r="4.1"/>
<circle cx="582.58" cy="328.59" r="4.1"/>
<circle cx="584.31" cy="327.95" r="4.1"/>
<circle cx="585.54" cy="329.34" r="4.1"/>
<circle cx="587.32" cy="329.91" r="4.1"/>
<circle cx="588.61" cy="329.86" r="4.1"/>
<circle cx="590.31" cy="327.91" r="4.1"/>
<circle cx="591.83" cy="328.3" r="4.1"/>
<circle cx="593.06" cy="327.88" r="4.1"/>
<circle cx="594.91" cy="328.61" r="4.1"/>
<circle cx="596.4" cy="328.03" r="4.1"/>
<circle cx="597.81" cy="328.54" r="4.1"/>
<circle cx="599.42" cy="329.5" r="4.1"/>
<circle cx="600.77" cy="330.06" r="4.1"/>
<circle cx="602.04" cy="329.76" r="4.1"/>
<circle cx="603.66" cy="329.51" r="4.1"/>
<circle cx="605.3" cy="329.89" r="4.1"/>
<circle cx="606.7" cy="331.91" r="4.1"/>
<circle cx="608" cy="330.83" r="4.1"/>
<circle cx="609.68" cy="330.95" r="4.1"/>
<circle cx="612" cy="340.2" r="4.1"/>
<circle cx="613.5" cy="350.2" r="4.1"/>
<circle cx="615.05" cy="359.27" r="4.1"/>
<circle cx="616.43" cy="359.17" r="4.1"/>
<circle cx="618.36" cy="358.8" r="4.1"/>
<circle cx="619.58" cy="358.12" r="4.1"/>
<circle cx="620.99" cy="355.65" r="4.1"/>
<circle cx="622.5" cy="355.76" r="4.1"/>
<circle cx="624.05" cy="353.17" r="4.1"/>
<circle cx="625.92" cy="352.18" r="4.1"/>
<circle cx="627.01" cy="348.34" r="4.1"/>
<circle cx="628.56" cy="342.5" r="4.1"/>
<circle cx="630.22" cy="337.07" r="4.1"/>
<circle cx="631.83" cy="332.73" r="4.1"/>
<circle cx="633.14" cy="330.78" r="4.1"/>
<circle cx="634.95" cy="328.25" r="4.1"/>
<circle cx="636.23" cy="326.8" r="4.1"/>
<circle cx="637.87" cy="325.06" r="4.1"/>
<circle cx="639.07" cy="323.65" r="4.1"/>
<circle cx="640.9" cy="320.82" r="4.1"/>
<circle cx="642.33" cy="318.98" r="4.1"/>
<circle cx="643.56" cy="318.7" r="4.1"/>
<circle cx="645.52" cy="316.73" r="4.1"/>
<circle cx="646.97" cy="314.31" r="4.1"/>
<circle cx="648.16" cy="313.19" r="4.1"/>
<circle cx="649.73" cy="313.32" r="4.1"/>
<circle cx="651.35" cy="312.21" r="4.1"/>
<circle cx="652.76" cy="309.56" r="4.1"/>
<circle cx="654.37" cy="308.29" r="4.1"/>
<circle cx="656.01" cy="307.67" r="4.1"/>
<circle cx="657.26" cy="307.6" r="4.1"/>
<circle cx="658.8" cy="308.6" r="4.1"/>
<circle cx="660.51" cy="308.74" r="4.1"/>
<circle cx="662.07" cy="308.6" r="4.1"/>
<circle cx="663.3" cy="310.85" r="4.1"/>
<circle cx="665.04" cy="311.23" r="4.1"/>
<circle cx="666.53" cy="314.67" r="4.1"/>
<circle cx="668.02" cy="317.66" r="4.1"/>
<circle cx="669.43" cy="319.68" r="4.1"/>
<circle cx="671.13" cy="320.36" r="4.1"/>
<circle cx="672.53" cy="319.41" r="4.1"/>
<circle cx="673.95" cy="318.36" r="4.1"/>
<circle cx="675.39" cy="318.21" r="4.1"/>
<circle cx="676.87" cy="318.86" r="4.1"/>
<circle cx="678.69" cy="317.97" r="4.1"/>
<circle cx="680.27" cy="319.62" r="4.1"/>
<circle cx="681.71" cy="318.46" r="4.1"/>
<circle cx="683.27" cy="318.88" r="4.1"/>
<circle cx="684.81" cy="319.49" r="4.1"/>
<circle cx="686.1" cy="319.56" r="4.1"/>
<circle cx="687.84" cy="320.58" r="4.1"/>
<circle cx="688.88" cy="319.68" r="4.1"/>
</g>
<text transform="translate(460 329.65) rotate(-90)" text-anchor="middle" font-size="21.8" fill="#262626" textLength="110.8" lengthAdjust="spacingAndGlyphs">H2OMIXRA</text>
</g>
<g>
<line x1="188.6" y1="427.5" x2="188.6" y2="487.35" stroke="#dcdcdc" stroke-width="2.1"/>
<line x1="230.4" y1="427.5" x2="230.4" y2="487.35" stroke="#dcdcdc" stroke-width="2.1"/>
<line x1="272.1" y1="427.5" x2="272.1" y2="487.35" stroke="#dcdcdc" stroke-width="2.1"/>
<line x1="313.5" y1="427.5" x2="313.5" y2="487.35" stroke="#dcdcdc" stroke-width="2.1"/>
<line x1="147.4" y1="427.5" x2="355.3" y2="427.5" stroke="#dcdcdc" stroke-width="2.1"/>
<line x1="147.4" y1="457.3" x2="355.3" y2="457.3" stroke="#dcdcdc" stroke-width="2.1"/>
<line x1="147.4" y1="487.35" x2="355.3" y2="487.35" stroke="#dcdcdc" stroke-width="2.1"/>
<line x1="148.55" y1="481.38" x2="354.3" y2="481.38" stroke="#b0b0b0" stroke-width="1.7" stroke-dasharray="1 4.557" stroke-dashoffset="0"/>
<line x1="148.55" y1="475.41" x2="354.3" y2="475.41" stroke="#b0b0b0" stroke-width="1.7" stroke-dasharray="1 4.557" stroke-dashoffset="0"/>
<line x1="148.55" y1="469.44" x2="354.3" y2="469.44" stroke="#b0b0b0" stroke-width="1.7" stroke-dasharray="1 4.557" stroke-dashoffset="0"/>
<line x1="148.55" y1="463.47" x2="354.3" y2="463.47" stroke="#b0b0b0" stroke-width="1.7" stroke-dasharray="1 4.557" stroke-dashoffset="0"/>
<line x1="148.55" y1="451.53" x2="354.3" y2="451.53" stroke="#b0b0b0" stroke-width="1.7" stroke-dasharray="1 4.557" stroke-dashoffset="0"/>
<line x1="148.55" y1="445.56" x2="354.3" y2="445.56" stroke="#b0b0b0" stroke-width="1.7" stroke-dasharray="1 4.557" stroke-dashoffset="0"/>
<line x1="148.55" y1="439.59" x2="354.3" y2="439.59" stroke="#b0b0b0" stroke-width="1.7" stroke-dasharray="1 4.557" stroke-dashoffset="0"/>
<line x1="148.55" y1="433.62" x2="354.3" y2="433.62" stroke="#b0b0b0" stroke-width="1.7" stroke-dasharray="1 4.557" stroke-dashoffset="0"/>
<rect x="147.4" y="427.5" width="207.9" height="59.85" fill="none" stroke="#262626" stroke-width="2"/>
<path d="M188.6 427.5v3.3 M188.6 487.35v-3.3" stroke="#262626" stroke-width="1.6" fill="none"/>
<path d="M230.4 427.5v3.3 M230.4 487.35v-3.3" stroke="#262626" stroke-width="1.6" fill="none"/>
<path d="M272.1 427.5v3.3 M272.1 487.35v-3.3" stroke="#262626" stroke-width="1.6" fill="none"/>
<path d="M313.5 427.5v3.3 M313.5 487.35v-3.3" stroke="#262626" stroke-width="1.6" fill="none"/>
<path d="M147.4 427.5h3.3 M355.3 427.5h-3.3" stroke="#262626" stroke-width="1.6" fill="none"/>
<path d="M147.4 457.3h3.3 M355.3 457.3h-3.3" stroke="#262626" stroke-width="1.6" fill="none"/>
<path d="M147.4 487.35h3.3 M355.3 487.35h-3.3" stroke="#262626" stroke-width="1.6" fill="none"/>
<text x="138.7" y="434.3" text-anchor="end" font-size="19.3" fill="#262626" textLength="32.55" lengthAdjust="spacingAndGlyphs">200</text>
<text x="138.7" y="464.1" text-anchor="end" font-size="19.3" fill="#262626" textLength="32.55" lengthAdjust="spacingAndGlyphs">100</text>
<text x="138.7" y="494.15" text-anchor="end" font-size="19.3" fill="#262626" textLength="10.85" lengthAdjust="spacingAndGlyphs">0</text>
<g fill="none" stroke="#0072BD" stroke-width="2">
<circle cx="178.23" cy="486.39" r="4.1"/>
<circle cx="179.53" cy="481.44" r="4.1"/>
<circle cx="181.18" cy="478.58" r="4.1"/>
<circle cx="182.88" cy="477.74" r="4.1"/>
<circle cx="184.43" cy="477.51" r="4.1"/>
<circle cx="185.62" cy="472.62" r="4.1"/>
<circle cx="187.27" cy="470.19" r="4.1"/>
<circle cx="188.88" cy="470.89" r="4.1"/>
<circle cx="190.27" cy="468.86" r="4.1"/>
<circle cx="191.95" cy="467.75" r="4.1"/>
<circle cx="193.12" cy="463.99" r="4.1"/>
<circle cx="194.85" cy="461.76" r="4.1"/>
<circle cx="196.43" cy="460.67" r="4.1"/>
<circle cx="197.95" cy="460.17" r="4.1"/>
<circle cx="199.23" cy="460.09" r="4.1"/>
<circle cx="200.8" cy="460.51" r="4.1"/>
<circle cx="202.05" cy="463.95" r="4.1"/>
<circle cx="203.9" cy="468.45" r="4.1"/>
<circle cx="205.34" cy="471.82" r="4.1"/>
<circle cx="206.57" cy="473.27" r="4.1"/>
<circle cx="208.47" cy="476.79" r="4.1"/>
<circle cx="210.01" cy="476.7" r="4.1"/>
<circle cx="211.27" cy="473.6" r="4.1"/>
<circle cx="212.84" cy="473.21" r="4.1"/>
<circle cx="214.14" cy="469.9" r="4.1"/>
<circle cx="215.7" cy="469.24" r="4.1"/>
<circle cx="217.38" cy="466.86" r="4.1"/>
<circle cx="218.66" cy="466.86" r="4.1"/>
<circle cx="220.18" cy="462.69" r="4.1"/>
<circle cx="222.03" cy="462.57" r="4.1"/>
<circle cx="223.31" cy="464.2" r="4.1"/>
<circle cx="224.82" cy="464.89" r="4.1"/>
<circle cx="226.22" cy="468.59" r="4.1"/>
<circle cx="227.9" cy="467.63" r="4.1"/>
<circle cx="229.33" cy="462.65" r="4.1"/>
<circle cx="230.79" cy="463.88" r="4.1"/>
<circle cx="232.36" cy="460.87" r="4.1"/>
<circle cx="233.84" cy="461.19" r="4.1"/>
<circle cx="235.43" cy="461.48" r="4.1"/>
<circle cx="236.93" cy="461.83" r="4.1"/>
<circle cx="238.32" cy="461.18" r="4.1"/>
<circle cx="240.02" cy="460.62" r="4.1"/>
<circle cx="241.56" cy="460.67" r="4.1"/>
<circle cx="242.86" cy="458.07" r="4.1"/>
<circle cx="244.28" cy="457.13" r="4.1"/>
<circle cx="246.03" cy="457.37" r="4.1"/>
<circle cx="247.55" cy="451.88" r="4.1"/>
<circle cx="248.98" cy="447.99" r="4.1"/>
<circle cx="250.46" cy="445.77" r="4.1"/>
<circle cx="251.69" cy="441.54" r="4.1"/>
<circle cx="253.32" cy="441.35" r="4.1"/>
<circle cx="254.72" cy="440.34" r="4.1"/>
<circle cx="256.29" cy="439.23" r="4.1"/>
<circle cx="257.69" cy="434.96" r="4.1"/>
<circle cx="259.61" cy="435.77" r="4.1"/>
<circle cx="261" cy="432.96" r="4.1"/>
<circle cx="262.37" cy="431.96" r="4.1"/>
<circle cx="263.85" cy="435.75" r="4.1"/>
<circle cx="265.53" cy="440.8" r="4.1"/>
<circle cx="266.81" cy="444.4" r="4.1"/>
<circle cx="268.53" cy="449.12" r="4.1"/>
<circle cx="270.07" cy="453.62" r="4.1"/>
<circle cx="271.25" cy="457.03" r="4.1"/>
<circle cx="273.02" cy="460.88" r="4.1"/>
<circle cx="274.66" cy="460.58" r="4.1"/>
<circle cx="275.96" cy="460.57" r="4.1"/>
<circle cx="277.39" cy="462.72" r="4.1"/>
<circle cx="278.88" cy="461.76" r="4.1"/>
<circle cx="282.9" cy="453.5" r="4.1"/>
<circle cx="282.4" cy="461.2" r="4.1"/>
<circle cx="284.4" cy="470.4" r="4.1"/>
<circle cx="286.7" cy="482" r="4.1"/>
<circle cx="286.83" cy="487.35" r="4.1"/>
<circle cx="288.39" cy="487.35" r="4.1"/>
<circle cx="289.66" cy="487.35" r="4.1"/>
<circle cx="291.27" cy="487.35" r="4.1"/>
<circle cx="292.56" cy="487.35" r="4.1"/>
<circle cx="294.16" cy="487.35" r="4.1"/>
<circle cx="295.57" cy="487.35" r="4.1"/>
<circle cx="297.5" cy="483" r="4.1"/>
<circle cx="299.5" cy="480.2" r="4.1"/>
<circle cx="301.4" cy="479.7" r="4.1"/>
<circle cx="303.2" cy="482.5" r="4.1"/>
<circle cx="304.62" cy="487.35" r="4.1"/>
<circle cx="305.83" cy="487.35" r="4.1"/>
<circle cx="307.24" cy="487.35" r="4.1"/>
<circle cx="309.04" cy="487.35" r="4.1"/>
<circle cx="310.38" cy="487.35" r="4.1"/>
<circle cx="311.76" cy="487.35" r="4.1"/>
<circle cx="313.31" cy="487.35" r="4.1"/>
<circle cx="314.88" cy="487.35" r="4.1"/>
<circle cx="316.38" cy="487.35" r="4.1"/>
<circle cx="317.74" cy="487.35" r="4.1"/>
<circle cx="319.42" cy="487.35" r="4.1"/>
<circle cx="320.69" cy="487.35" r="4.1"/>
<circle cx="322.17" cy="487.35" r="4.1"/>
<circle cx="323.89" cy="487.35" r="4.1"/>
<circle cx="325.16" cy="487.35" r="4.1"/>
<circle cx="326.68" cy="487.35" r="4.1"/>
<circle cx="327.84" cy="480.61" r="4.1"/>
<circle cx="328.93" cy="477.14" r="4.1"/>
<circle cx="330.4" cy="472.98" r="4.1"/>
<circle cx="332.21" cy="470.79" r="4.1"/>
<circle cx="333.57" cy="465.52" r="4.1"/>
<circle cx="335.22" cy="462.9" r="4.1"/>
<circle cx="336.28" cy="458.25" r="4.1"/>
<circle cx="338" cy="454.64" r="4.1"/>
<circle cx="339.6" cy="453.27" r="4.1"/>
<circle cx="340.64" cy="450.65" r="4.1"/>
<circle cx="342.35" cy="448.06" r="4.1"/>
<circle cx="343.99" cy="446.14" r="4.1"/>
<circle cx="345.06" cy="443.53" r="4.1"/>
</g>
<text transform="translate(86.1 457.12) rotate(-90)" text-anchor="middle" font-size="21.8" fill="#262626" textLength="89.3" lengthAdjust="spacingAndGlyphs">TERR<tspan dx="0" dy="9.6" font-size="16.2">M</tspan><tspan dx="0" dy="-9.6">SL</tspan></text>
<text transform="translate(159.8 509.5) rotate(-45)" text-anchor="end" font-size="19.3" fill="#262626" textLength="50.3" lengthAdjust="spacingAndGlyphs">02/23</text>
<text transform="translate(200.8 509.5) rotate(-45)" text-anchor="end" font-size="19.3" fill="#262626" textLength="50.3" lengthAdjust="spacingAndGlyphs">02/24</text>
<text transform="translate(242.6 509.5) rotate(-45)" text-anchor="end" font-size="19.3" fill="#262626" textLength="50.3" lengthAdjust="spacingAndGlyphs">02/25</text>
<text transform="translate(284.3 509.5) rotate(-45)" text-anchor="end" font-size="19.3" fill="#262626" textLength="50.3" lengthAdjust="spacingAndGlyphs">02/26</text>
<text transform="translate(325.7 509.5) rotate(-45)" text-anchor="end" font-size="19.3" fill="#262626" textLength="50.3" lengthAdjust="spacingAndGlyphs">02/27</text>
<text transform="translate(367.5 509.5) rotate(-45)" text-anchor="end" font-size="19.3" fill="#262626" textLength="50.3" lengthAdjust="spacingAndGlyphs">02/28</text>
<text x="251.25" y="575.6" text-anchor="middle" font-size="21.8" fill="#262626" textLength="50.6" lengthAdjust="spacingAndGlyphs">Time</text>
</g>
<g>
<line x1="531.8" y1="427.5" x2="531.8" y2="487.35" stroke="#dcdcdc" stroke-width="2.1"/>
<line x1="573.6" y1="427.5" x2="573.6" y2="487.35" stroke="#dcdcdc" stroke-width="2.1"/>
<line x1="615.3" y1="427.5" x2="615.3" y2="487.35" stroke="#dcdcdc" stroke-width="2.1"/>
<line x1="656.7" y1="427.5" x2="656.7" y2="487.35" stroke="#dcdcdc" stroke-width="2.1"/>
<line x1="490.6" y1="440.6" x2="698.5" y2="440.6" stroke="#dcdcdc" stroke-width="2.1"/>
<line x1="490.6" y1="463.7" x2="698.5" y2="463.7" stroke="#dcdcdc" stroke-width="2.1"/>
<line x1="490.6" y1="487.35" x2="698.5" y2="487.35" stroke="#dcdcdc" stroke-width="2.1"/>
<line x1="491.75" y1="482.7" x2="697.5" y2="482.7" stroke="#b0b0b0" stroke-width="1.7" stroke-dasharray="1 4.557" stroke-dashoffset="0"/>
<line x1="491.75" y1="478.05" x2="697.5" y2="478.05" stroke="#b0b0b0" stroke-width="1.7" stroke-dasharray="1 4.557" stroke-dashoffset="0"/>
<line x1="491.75" y1="473.4" x2="697.5" y2="473.4" stroke="#b0b0b0" stroke-width="1.7" stroke-dasharray="1 4.557" stroke-dashoffset="0"/>
<line x1="491.75" y1="468.75" x2="697.5" y2="468.75" stroke="#b0b0b0" stroke-width="1.7" stroke-dasharray="1 4.557" stroke-dashoffset="0"/>
<line x1="491.75" y1="459.45" x2="697.5" y2="459.45" stroke="#b0b0b0" stroke-width="1.7" stroke-dasharray="1 4.557" stroke-dashoffset="0"/>
<line x1="491.75" y1="454.8" x2="697.5" y2="454.8" stroke="#b0b0b0" stroke-width="1.7" stroke-dasharray="1 4.557" stroke-dashoffset="0"/>
<line x1="491.75" y1="450.15" x2="697.5" y2="450.15" stroke="#b0b0b0" stroke-width="1.7" stroke-dasharray="1 4.557" stroke-dashoffset="0"/>
<line x1="491.75" y1="445.5" x2="697.5" y2="445.5" stroke="#b0b0b0" stroke-width="1.7" stroke-dasharray="1 4.557" stroke-dashoffset="0"/>
<line x1="491.75" y1="436.2" x2="697.5" y2="436.2" stroke="#b0b0b0" stroke-width="1.7" stroke-dasharray="1 4.557" stroke-dashoffset="0"/>
<line x1="491.75" y1="431.55" x2="697.5" y2="431.55" stroke="#b0b0b0" stroke-width="1.7" stroke-dasharray="1 4.557" stroke-dashoffset="0"/>
<rect x="490.6" y="427.5" width="207.9" height="59.85" fill="none" stroke="#262626" stroke-width="2"/>
<path d="M531.8 427.5v3.3 M531.8 487.35v-3.3" stroke="#262626" stroke-width="1.6" fill="none"/>
<path d="M573.6 427.5v3.3 M573.6 487.35v-3.3" stroke="#262626" stroke-width="1.6" fill="none"/>
<path d="M615.3 427.5v3.3 M615.3 487.35v-3.3" stroke="#262626" stroke-width="1.6" fill="none"/>
<path d="M656.7 427.5v3.3 M656.7 487.35v-3.3" stroke="#262626" stroke-width="1.6" fill="none"/>
<path d="M490.6 440.6h3.3 M698.5 440.6h-3.3" stroke="#262626" stroke-width="1.6" fill="none"/>
<path d="M490.6 463.7h3.3 M698.5 463.7h-3.3" stroke="#262626" stroke-width="1.6" fill="none"/>
<path d="M490.6 487.35h3.3 M698.5 487.35h-3.3" stroke="#262626" stroke-width="1.6" fill="none"/>
<text x="481.9" y="447.4" text-anchor="end" font-size="19.3" fill="#262626" textLength="32.55" lengthAdjust="spacingAndGlyphs">200</text>
<text x="481.9" y="470.5" text-anchor="end" font-size="19.3" fill="#262626" textLength="32.55" lengthAdjust="spacingAndGlyphs">100</text>
<text x="481.9" y="494.15" text-anchor="end" font-size="19.3" fill="#262626" textLength="10.85" lengthAdjust="spacingAndGlyphs">0</text>
<g fill="none" stroke="#0072BD" stroke-width="2">
<circle cx="521.6" cy="477.8" r="4.1"/>
<circle cx="522.2" cy="481.2" r="4.1"/>
<circle cx="523.6" cy="484.3" r="4.1"/>
<circle cx="525.31" cy="487.35" r="4.1"/>
<circle cx="526.69" cy="487.35" r="4.1"/>
<circle cx="528.19" cy="487.35" r="4.1"/>
<circle cx="529.46" cy="487.35" r="4.1"/>
<circle cx="530.91" cy="487.35" r="4.1"/>
<circle cx="532.61" cy="487.35" r="4.1"/>
<circle cx="534.11" cy="487.35" r="4.1"/>
<circle cx="535.51" cy="487.35" r="4.1"/>
<circle cx="536.73" cy="487.35" r="4.1"/>
<circle cx="538.49" cy="487.35" r="4.1"/>
<circle cx="539.9" cy="487.35" r="4.1"/>
<circle cx="541.25" cy="487.35" r="4.1"/>
<circle cx="543.04" cy="487.35" r="4.1"/>
<circle cx="544.4" cy="476.6" r="4.1"/>
<circle cx="545.2" cy="468.9" r="4.1"/>
<circle cx="546.7" cy="463.5" r="4.1"/>
<circle cx="548.2" cy="459.6" r="4.1"/>
<circle cx="549.8" cy="456.6" r="4.1"/>
<circle cx="551.3" cy="451.9" r="4.1"/>
<circle cx="552.1" cy="446.5" r="4.1"/>
<circle cx="553.6" cy="443.5" r="4.1"/>
<circle cx="556" cy="441.1" r="4.1"/>
<circle cx="557.5" cy="438" r="4.1"/>
<circle cx="558.3" cy="434.2" r="4.1"/>
<circle cx="559.8" cy="443.5" r="4.1"/>
<circle cx="561.4" cy="454.2" r="4.1"/>
<circle cx="563.4" cy="466.6" r="4.1"/>
<circle cx="565.2" cy="475.8" r="4.1"/>
<circle cx="566.8" cy="481.2" r="4.1"/>
<circle cx="567.35" cy="487.35" r="4.1"/>
<circle cx="569.02" cy="487.35" r="4.1"/>
<circle cx="570.41" cy="487.35" r="4.1"/>
<circle cx="572.05" cy="487.35" r="4.1"/>
<circle cx="573.39" cy="487.35" r="4.1"/>
<circle cx="574.71" cy="487.35" r="4.1"/>
<circle cx="576" cy="487.35" r="4.1"/>
<circle cx="577.69" cy="487.35" r="4.1"/>
<circle cx="579.07" cy="487.35" r="4.1"/>
<circle cx="580.61" cy="487.35" r="4.1"/>
<circle cx="581.98" cy="487.35" r="4.1"/>
<circle cx="583.72" cy="487.35" r="4.1"/>
<circle cx="585.14" cy="487.35" r="4.1"/>
<circle cx="586.5" cy="481.5" r="4.1"/>
<circle cx="588.1" cy="476.6" r="4.1"/>
<circle cx="589.6" cy="472" r="4.1"/>
<circle cx="591.2" cy="465" r="4.1"/>
<circle cx="592.7" cy="457.3" r="4.1"/>
<circle cx="594.3" cy="451.2" r="4.1"/>
<circle cx="595.8" cy="446.5" r="4.1"/>
<circle cx="597.3" cy="438.8" r="4.1"/>
<circle cx="599.7" cy="428" r="4.1"/>
<circle cx="601.2" cy="433.4" r="4.1"/>
<circle cx="603.5" cy="441.9" r="4.1"/>
<circle cx="605.1" cy="451.9" r="4.1"/>
<circle cx="606.6" cy="464.3" r="4.1"/>
<circle cx="608.1" cy="475.8" r="4.1"/>
<circle cx="609.86" cy="487.35" r="4.1"/>
<circle cx="611" cy="487.35" r="4.1"/>
<circle cx="612.49" cy="487.35" r="4.1"/>
<circle cx="614.04" cy="487.35" r="4.1"/>
<circle cx="615.54" cy="487.35" r="4.1"/>
<circle cx="616.91" cy="487.35" r="4.1"/>
<circle cx="618.4" cy="487.35" r="4.1"/>
<circle cx="619.82" cy="487.35" r="4.1"/>
<circle cx="621.68" cy="487.35" r="4.1"/>
<circle cx="622.98" cy="487.35" r="4.1"/>
<circle cx="624.64" cy="487.35" r="4.1"/>
<circle cx="625.93" cy="487.35" r="4.1"/>
<circle cx="627.4" cy="474.3" r="4.1"/>
<circle cx="629.3" cy="462" r="4.1"/>
<circle cx="631" cy="450.4" r="4.1"/>
<circle cx="632" cy="441.9" r="4.1"/>
<circle cx="633.6" cy="433.4" r="4.1"/>
<circle cx="635.9" cy="426.5" r="4.1"/>
<circle cx="638.2" cy="434.2" r="4.1"/>
<circle cx="639.8" cy="438" r="4.1"/>
<circle cx="641.3" cy="442.7" r="4.1"/>
<circle cx="642.8" cy="449.6" r="4.1"/>
<circle cx="644.4" cy="457.3" r="4.1"/>
<circle cx="646.7" cy="467.4" r="4.1"/>
<circle cx="648.6" cy="476.6" r="4.1"/>
<circle cx="649.8" cy="481.2" r="4.1"/>
<circle cx="651.36" cy="487.35" r="4.1"/>
<circle cx="653.06" cy="487.35" r="4.1"/>
<circle cx="654.38" cy="487.35" r="4.1"/>
<circle cx="655.73" cy="487.35" r="4.1"/>
<circle cx="657.54" cy="487.35" r="4.1"/>
<circle cx="658.86" cy="487.35" r="4.1"/>
<circle cx="660.29" cy="487.35" r="4.1"/>
<circle cx="662.11" cy="487.35" r="4.1"/>
<circle cx="663.74" cy="487.35" r="4.1"/>
<circle cx="665.02" cy="487.35" r="4.1"/>
<circle cx="666.48" cy="487.35" r="4.1"/>
<circle cx="668.29" cy="482.56" r="4.1"/>
<circle cx="669.54" cy="479.49" r="4.1"/>
<circle cx="670.99" cy="479.17" r="4.1"/>
<circle cx="672.47" cy="479.35" r="4.1"/>
<circle cx="673.91" cy="480.19" r="4.1"/>
<circle cx="675.66" cy="480.58" r="4.1"/>
<circle cx="677.01" cy="480.62" r="4.1"/>
<circle cx="678.15" cy="480.62" r="4.1"/>
<circle cx="679.98" cy="481.44" r="4.1"/>
<circle cx="681.28" cy="481.62" r="4.1"/>
<circle cx="682.64" cy="482.6" r="4.1"/>
<circle cx="684.19" cy="483.04" r="4.1"/>
<circle cx="685.43" cy="482.91" r="4.1"/>
<circle cx="687.14" cy="484.82" r="4.1"/>
<circle cx="688.72" cy="486.03" r="4.1"/>
</g>
<text transform="translate(398.5 457.62) rotate(-90)" text-anchor="middle" font-size="21.8" fill="#262626" textLength="95.1" lengthAdjust="spacingAndGlyphs">SUN<tspan dx="1.6" dy="9.6" font-size="15.2">F</tspan><tspan dx="0.9" dy="-9.6">LUX</tspan></text>
<text transform="translate(503 509.5) rotate(-45)" text-anchor="end" font-size="19.3" fill="#262626" textLength="50.3" lengthAdjust="spacingAndGlyphs">02/23</text>
<text transform="translate(544 509.5) rotate(-45)" text-anchor="end" font-size="19.3" fill="#262626" textLength="50.3" lengthAdjust="spacingAndGlyphs">02/24</text>
<text transform="translate(585.8 509.5) rotate(-45)" text-anchor="end" font-size="19.3" fill="#262626" textLength="50.3" lengthAdjust="spacingAndGlyphs">02/25</text>
<text transform="translate(627.5 509.5) rotate(-45)" text-anchor="end" font-size="19.3" fill="#262626" textLength="50.3" lengthAdjust="spacingAndGlyphs">02/26</text>
<text transform="translate(668.9 509.5) rotate(-45)" text-anchor="end" font-size="19.3" fill="#262626" textLength="50.3" lengthAdjust="spacingAndGlyphs">02/27</text>
<text transform="translate(710.7 509.5) rotate(-45)" text-anchor="end" font-size="19.3" fill="#262626" textLength="50.3" lengthAdjust="spacingAndGlyphs">02/28</text>
<text x="594.45" y="575.6" text-anchor="middle" font-size="21.8" fill="#262626" textLength="50.6" lengthAdjust="spacingAndGlyphs">Time</text>
</g>
</svg></body></html>
